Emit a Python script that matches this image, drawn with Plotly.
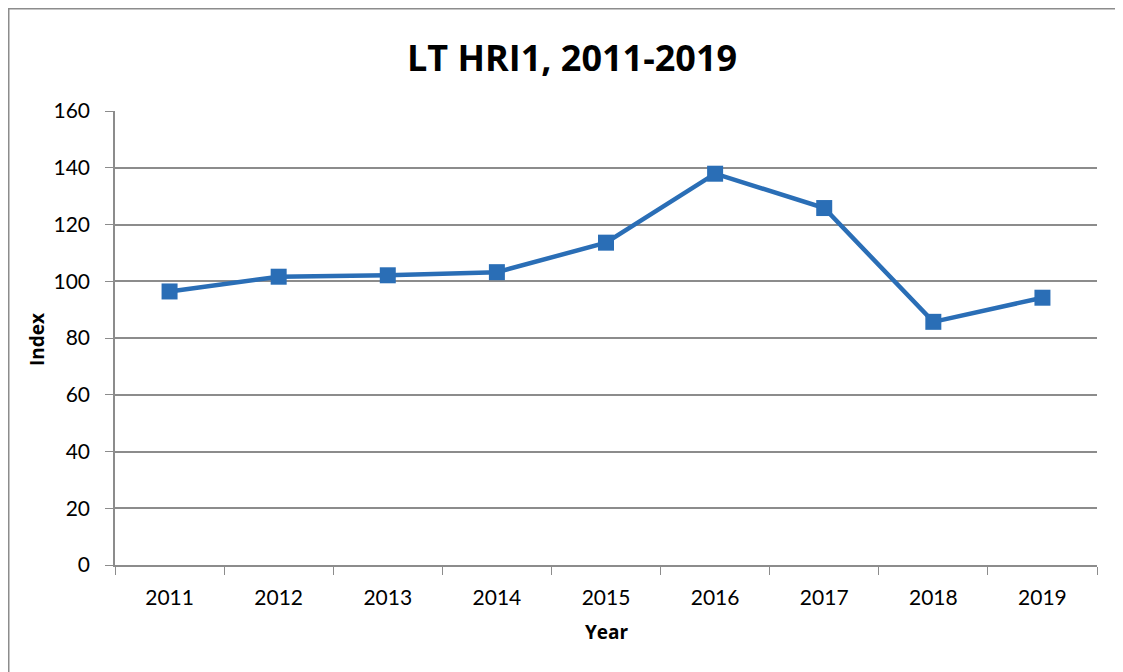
import plotly.graph_objects as go

years = ["2011", "2012", "2013", "2014", "2015", "2016", "2017", "2018", "2019"]
index_values = [96.4, 101.6, 102.1, 103.2, 113.6, 137.9, 125.8, 85.7, 94.2]
y_ticks = [0, 20, 40, 60, 80, 100, 120, 140, 160]

# page body adds an 8px offset; figure coordinates = screen - 8
W, H = 1115, 664
ml, mr, mt, mb = 107, 26, 103, 107
pw, ph = W - ml - mr, H - mt - mb

def px_x(p):
    return (p - ml) / pw

def px_y(p):
    return (H - mb - p) / ph

font_family = "Lato, 'Open Sans', sans-serif"
title_family = "'Open Sans', Lato, sans-serif"
grid = "#8c8c8c"

fig = go.Figure()
fig.add_trace(go.Scatter(
    x=years, y=index_values, mode="lines+markers",
    line=dict(color="#2A6EB6", width=4.5),
    marker=dict(symbol="square", size=16, color="#2A6EB6"),
    showlegend=False,
))

fig.update_layout(
    width=W, height=H,
    margin=dict(l=ml, r=mr, t=mt, b=mb),
    paper_bgcolor="white", plot_bgcolor="white",
    font=dict(family=font_family, size=21, color="black"),
    title=dict(text="<b>LT HRI1, 2011-2019</b>", x=px_x(564), xref="paper",
               y=1 - 50 / H, yref="container", xanchor="center", yanchor="middle",
               font=dict(size=36, family=title_family, color="black")),
    xaxis=dict(type="category", range=[-0.5, 8.5], tickson="boundaries",
               ticks="outside", ticklen=8, tickcolor=grid, showline=True,
               linecolor=grid, linewidth=1.5, showgrid=False, zeroline=False,
               tickfont=dict(size=21), ticklabelstandoff=13, fixedrange=True),
    yaxis=dict(range=[0, 160], tickvals=y_ticks, ticks="outside", ticklen=8,
               tickcolor=grid, showline=True, linecolor=grid, linewidth=1.5,
               showgrid=True, gridcolor=grid, gridwidth=1.5, zeroline=False,
               tickfont=dict(size=21), ticklabelstandoff=11, fixedrange=True),
    annotations=[
        dict(text="<b>Year</b>", x=px_x(599), y=px_y(624), xref="paper", yref="paper",
             showarrow=False, xanchor="center", yanchor="middle",
             font=dict(size=19, family=title_family)),
        dict(text="<b>Index</b>", x=px_x(29), y=px_y(332), xref="paper", yref="paper",
             showarrow=False, xanchor="center", yanchor="middle", textangle=-90,
             font=dict(size=19, family=title_family)),
    ],
    shapes=[
        dict(type="line", xref="paper", yref="paper",
             x0=px_x(0), x1=px_x(W), y0=px_y(0.75), y1=px_y(0.75),
             line=dict(color="#8c8c8c", width=1.5), layer="below"),
        dict(type="line", xref="paper", yref="paper",
             x0=px_x(0.75), x1=px_x(0.75), y0=px_y(0), y1=px_y(H),
             line=dict(color="#8c8c8c", width=1.5), layer="below"),
    ],
)

fig.write_html("out.html")
